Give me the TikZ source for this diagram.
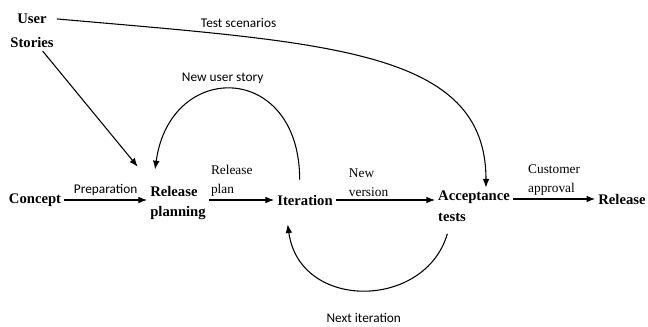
\documentclass[tikz,border=0pt]{standalone}
\usepackage{fontspec}
\setmainfont{Liberation Serif}
\setsansfont{Carlito}
\usetikzlibrary{arrows.meta}

\tikzset{
  stage/.style={font=\fontsize{11}{15.5}\selectfont\bfseries, align=left, inner sep=2pt},
  note/.style={font=\fontsize{10}{14.5}\selectfont, align=left, inner sep=1pt},
  lbl/.style={font=\sffamily\fontsize{10}{12}\selectfont, inner sep=1pt},
  flow/.style={-{Latex[length=6.5pt,width=5pt]}}
}

\begin{document}
\begin{tikzpicture}[thick, x=0.75pt, y=-0.75pt]
            \useasboundingbox (0,0) rectangle (648,327);
            \draw (32,31) node[stage, align=center, font=\fontsize{11}{18}\selectfont\bfseries] (user) {User\\Stories};
            \draw (35,200) node[stage] (concept) {Concept};
            \draw (178,203) node[stage] (relplan) {Release\\planning};
            \draw (305,200) node[stage] (iter) {Iteration};
            \draw (474,206) node[stage] (acc) {Acceptance\\tests};
            \draw (622,199) node[stage] (rel) {Release};
            % main line
            \draw[flow] (concept.east) -- (concept.east -| relplan.west)
                  node[lbl, midway, above=2pt] {Preparation};
            \draw[flow] (relplan.east |- iter.west) -- (iter.west)
                  node[note, pos=0.35, above=1pt] {Release\\plan};
            \draw[flow] (iter.east) -- (iter.east -| acc.west)
                  node[note, pos=0.33, above=1pt] {New\\version};
            \draw[flow] (acc.east |- rel.west) -- (rel.west)
                  node[note, midway, above=1pt] {Customer\\approval};
            % feedback
            \draw[flow] ([xshift=8pt]user.south) -- ([xshift=-7pt,yshift=12pt]relplan.north west);
            \draw[flow] ([xshift=-4pt,yshift=9pt]iter.north) .. controls +(0,-118) and +(15,-110) ..
                  ([xshift=6pt,yshift=10pt]relplan.north west)
                  node[lbl, pos=0.55, above=3pt] {New user story};
            \draw[flow] ([yshift=-6pt]user.north east) .. controls +(272,24) and +(0,-138) ..
                  ([xshift=9pt,yshift=0pt]acc.north)
                  node[lbl, pos=0.25, above=5pt] {Test scenarios};
            \draw[flow] ([xshift=-20pt,yshift=-7pt]acc.south) .. controls +(-22,76) and +(12,87) ..
                  ([xshift=-13pt,yshift=-12pt]iter.south)
                  node[lbl, pos=0.5, below=16pt] {Next iteration};
        \end{tikzpicture}
\end{document}
